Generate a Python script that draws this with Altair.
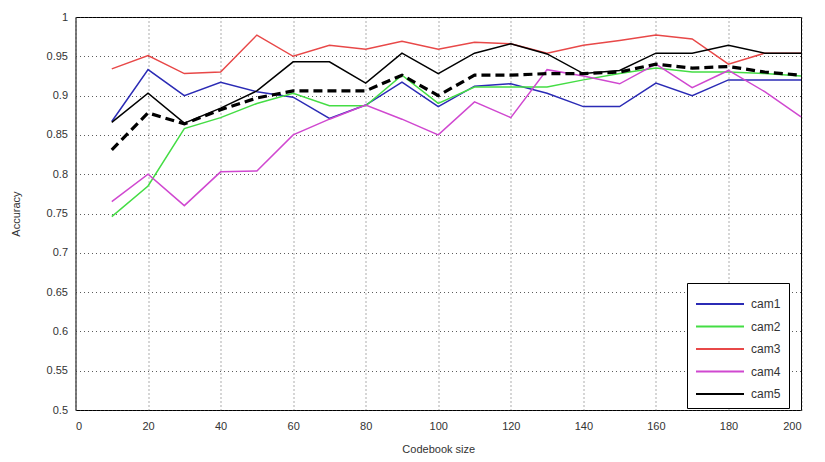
import altair as alt
import pandas as pd

sizes = [10, 20, 30, 40, 50, 60, 70, 80, 90, 100, 110, 120, 130, 140, 150, 160, 170, 180, 190, 200]
cam1 = [0.867, 0.933, 0.900, 0.917, 0.905, 0.898, 0.871, 0.888, 0.917, 0.886, 0.912, 0.915, 0.903, 0.886, 0.886, 0.916, 0.900, 0.920, 0.920, 0.920]
cam2 = [0.746, 0.785, 0.858, 0.872, 0.890, 0.903, 0.887, 0.887, 0.926, 0.890, 0.911, 0.911, 0.911, 0.920, 0.928, 0.935, 0.930, 0.930, 0.928, 0.925]
cam3 = [0.934, 0.951, 0.928, 0.930, 0.977, 0.950, 0.964, 0.959, 0.969, 0.959, 0.968, 0.966, 0.954, 0.964, 0.970, 0.977, 0.972, 0.940, 0.954, 0.954]
cam4 = [0.765, 0.800, 0.760, 0.803, 0.804, 0.850, 0.870, 0.888, 0.870, 0.850, 0.892, 0.872, 0.933, 0.925, 0.915, 0.940, 0.910, 0.932, 0.905, 0.873]
cam5 = [0.866, 0.903, 0.865, 0.884, 0.906, 0.943, 0.943, 0.916, 0.954, 0.928, 0.954, 0.966, 0.953, 0.928, 0.932, 0.954, 0.954, 0.964, 0.954, 0.954]
mean = [0.831, 0.878, 0.864, 0.882, 0.897, 0.906, 0.906, 0.906, 0.926, 0.900, 0.926, 0.926, 0.928, 0.928, 0.930, 0.940, 0.935, 0.937, 0.930, 0.926]

names = ["cam1", "cam2", "cam3", "cam4", "cam5"]
colors = ["#2b2bb5", "#44dd44", "#e84848", "#d048d0", "#000000"]
x_ticks = list(range(0, 201, 20))
y_ticks = [0.5, 0.55, 0.6, 0.65, 0.7, 0.75, 0.8, 0.85, 0.9, 0.95, 1.0]

rows = []
for name, vals in zip(names, [cam1, cam2, cam3, cam4, cam5]):
    for s, v in zip(sizes, vals):
        rows.append({"size": s, "acc": v, "cam": name})
df = pd.DataFrame(rows)
dfm = pd.DataFrame({"size": sizes, "acc": mean})

font = "Liberation Sans"
xenc = alt.X("size:Q", scale=alt.Scale(domain=[0, 200], nice=False),
             axis=alt.Axis(values=x_ticks, title="Codebook size", format="d",
                           labelPadding=10, titlePadding=12))
yenc = alt.Y("acc:Q", scale=alt.Scale(domain=[0.5, 1.0], nice=False, zero=False),
             axis=alt.Axis(values=y_ticks, title="Accuracy", format="~g",
                           labelPadding=8, titlePadding=25))

lines = alt.Chart(df).mark_line(strokeWidth=1.5).encode(
    x=xenc, y=yenc,
    color=alt.Color("cam:N", scale=alt.Scale(domain=names, range=colors),
                    legend=alt.Legend(title=None, orient="none", legendX=611.5, legendY=266,
                                      symbolType="M-1,0H3", symbolSize=576,
                                      symbolStrokeWidth=2, labelFontSize=12,
                                      labelFont=font, labelColor="#333",
                                      strokeColor="black", fillColor="white",
                                      padding=8, rowPadding=3.5, labelOffset=30)),
    order="size:Q",
)

dashed = alt.Chart(dfm).mark_line(strokeWidth=3.2, strokeDash=[9, 5], color="black").encode(
    x=xenc, y=yenc, order="size:Q"
)

chart = alt.layer(lines, dashed).properties(
    width=725.5, height=393,
    autosize=alt.AutoSizeParams(type="none"),
    padding={"left": 67.5, "top": 9, "right": 12, "bottom": 44},
).configure_view(stroke="black", strokeWidth=1).configure_axis(
    grid=True, gridColor="#333", gridDash=[1, 3], gridWidth=1, gridOpacity=0.8,
    ticks=False, domain=False, labelOverlap=False,
    labelFont=font, labelFontSize=11, labelColor="#333",
    titleFont=font, titleFontSize=11, titleColor="#333", titleFontWeight="normal",
)

chart.save("out.html", embed_options={"renderer": "svg", "actions": False})
